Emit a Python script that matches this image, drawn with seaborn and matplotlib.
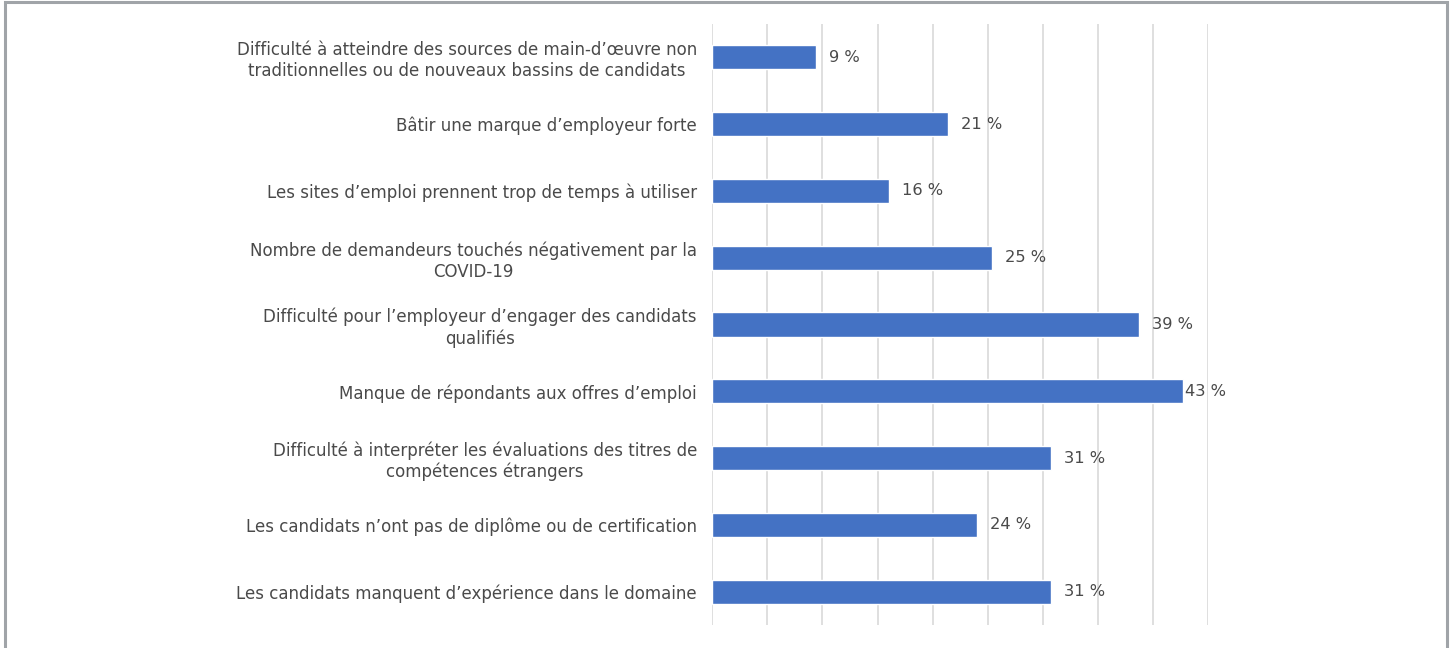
import numpy as np
import pandas as pd
import seaborn as sns
from matplotlib import pyplot as plt
from matplotlib.patches import Rectangle

# Data
categories = [
    "Difficulté à atteindre des sources de main-d\u2019œuvre non\ntraditionnelles ou de nouveaux bassins de candidats",
    "Bâtir une marque d\u2019employeur forte",
    "Les sites d\u2019emploi prennent trop de temps à utiliser",
    "Nombre de demandeurs touchés négativement par la\nCOVID-19",
    "Difficulté pour l\u2019employeur d\u2019engager des candidats\nqualifiés",
    "Manque de répondants aux offres d\u2019emploi",
    "Difficulté à interpréter les évaluations des titres de\ncompétences étrangers",
    "Les candidats n\u2019ont pas de diplôme ou de certification",
    "Les candidats manquent d\u2019expérience dans le domaine",
]
# bar lengths (measured) and the rounded labels shown next to them
values = [9.4, 21.4, 16.0, 25.4, 38.7, 42.7, 30.7, 24.0, 30.7]
value_labels = ["9 %", "21 %", "16 %", "25 %", "39 %", "43 %", "31 %", "24 %", "31 %"]

df = pd.DataFrame({"cat": categories, "val": values})

sns.set_theme(style="white")
plt.rcParams["font.family"] = ["DejaVu Sans"]

TXT = "#4a4a4a"
BAR = "#4472C4"

fig = plt.figure(figsize=(14.52, 6.48), dpi=100)
ax = fig.add_axes([0.4905, 0.0355, 0.3416, 0.9275])

sns.barplot(data=df, x="val", y="cat", color=BAR, width=0.36,
            saturation=1, ax=ax, zorder=3)

ax.set_xlim(0, 45)
ax.set_xticks(np.arange(0, 46, 5))
ax.xaxis.grid(True, color="#D9D9D9", linewidth=1.2, zorder=0)
ax.set_xticklabels([])
ax.tick_params(axis="x", length=0)
ax.tick_params(axis="y", length=0, pad=11)
for lbl in ax.get_yticklabels():
    lbl.set_multialignment("center")
    lbl.set_color(TXT)
    lbl.set_fontsize(12.0)
ax.set_xlabel("")
ax.set_ylabel("")
for s in ax.spines.values():
    s.set_visible(False)

# value labels; the last one is pulled in so it stays inside the chart area
for i, (v, lab) in enumerate(zip(values, value_labels)):
    ax.text(min(v + 1.2, 42.9), i, lab, va="center", ha="left",
            fontsize=11.7, color=TXT, zorder=4)

# outer frame
fig.patches.append(Rectangle((5 / 1452, -0.05), 1442 / 1452, 1.05 - 2 / 648,
                             transform=fig.transFigure, fill=False,
                             edgecolor="#A0A4A8", linewidth=2.2))

fig.savefig("out.png", dpi=100)
